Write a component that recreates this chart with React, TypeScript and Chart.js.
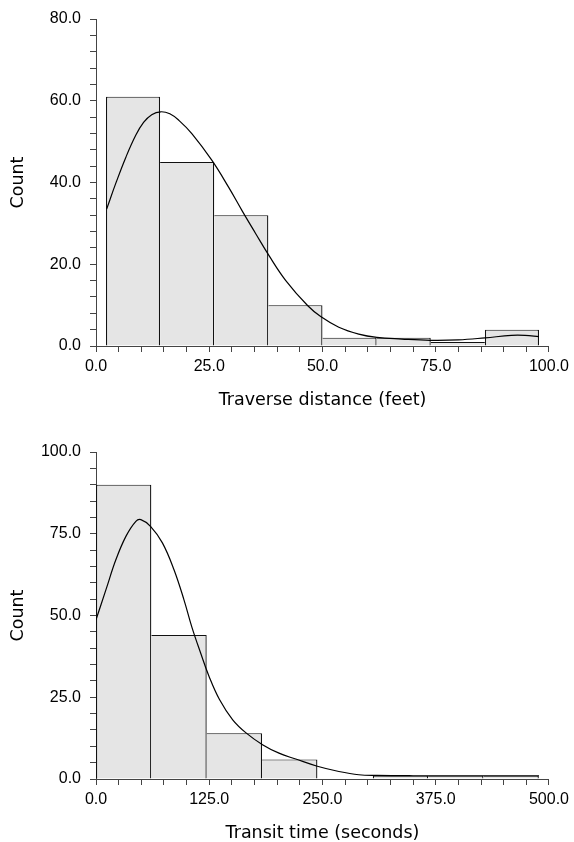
import React, { useEffect, useRef } from 'react';
import { Chart, registerables } from 'chart.js';

Chart.register(...registerables);

// ---- Top chart: traverse distance ----
const TRAVERSE_BIN_STARTS = [2.2, 14.15, 26.1, 38.05, 50.0, 61.95, 73.9, 85.85];
const TRAVERSE_BIN_WIDTH = 11.95;
const TRAVERSE_COUNTS = [61, 45, 32, 10, 2, 2, 1, 4];
const TRAVERSE_CURVE_X = [2.35, 4.4, 6.6, 8.8, 10.5, 12.3, 14.3, 16.3, 18.3, 21.2, 25.6, 29.3, 32.3, 35.2, 38.2, 41.9, 46.7, 49.6, 53.6, 58.0, 62.0, 67.5, 73.8, 80.0, 85.9, 91.7, 94.7, 97.8];
const TRAVERSE_CURVE_Y = [33.5, 39.9, 46.2, 51.6, 54.7, 56.6, 57.3, 56.8, 55.2, 51.9, 45.4, 38.8, 33.0, 27.6, 22.1, 16.0, 9.9, 7.2, 4.6, 2.9, 2.1, 1.7, 1.4, 1.5, 2.0, 2.6, 2.6, 2.3];

// ---- Bottom chart: transit time ----
const TRANSIT_BIN_STARTS = [0, 61.1, 122.2, 183.3, 244.4, 305.5, 366.6, 427.7];
const TRANSIT_BIN_WIDTH = 61.1;
const TRANSIT_COUNTS = [90, 44, 14, 6, 0, 1, 1, 1];
const TRANSIT_CURVE_X = [0, 11.0, 22.0, 33.0, 44.0, 49.5, 60.4, 73.3, 86.1, 97.1, 106.0, 115.4, 124.6, 136.3, 150.9, 165.6, 183.8, 202, 220.5, 244.3, 268.1, 290.1, 310, 350, 400, 450, 489];
const TRANSIT_CURVE_Y = [48.7, 57.9, 67.1, 74.2, 78.8, 79.3, 77.2, 72.2, 64.0, 54.8, 46.3, 38.6, 31.5, 24.3, 18.1, 14.1, 10.5, 7.9, 6.1, 3.9, 2.3, 1.3, 1.1, 1.0, 1.0, 1.0, 1.0];

// ---- Axes ----
const TOP_X_RANGE = [0, 100];
const TOP_X_MINOR_STEP = 5;
const TOP_X_MAJOR_STEP = 25;
const TOP_Y_RANGE = [0, 80];
const TOP_Y_MINOR_STEP = 4;
const TOP_Y_MAJOR_STEP = 20;

const BOT_X_RANGE = [0, 500];
const BOT_X_MINOR_STEP = 25;
const BOT_X_MAJOR_STEP = 125;
const BOT_Y_RANGE = [0, 100];
const BOT_Y_MINOR_STEP = 5;
const BOT_Y_MAJOR_STEP = 25;

const TOP_X_TITLE = 'Traverse distance (feet)';
const BOT_X_TITLE = 'Transit time (seconds)';
const Y_TITLE = 'Count';

const TICK_FONT = { family: "'Liberation Sans', Arial, sans-serif", size: 16 };
const TITLE_FONT = { family: "'DejaVu Sans', sans-serif", size: 17.5, lineHeight: 1 };
const AXIS_COLOR = '#444';

const W = 574;
const H = 409;

type Spec = {
  binStarts: number[];
  binWidth: number;
  counts: number[];
  curveX: number[];
  curveY: number[];
  xRange: number[];
  xMinor: number;
  xMajor: number;
  yRange: number[];
  yMinor: number;
  yMajor: number;
  xTitle: string;
};

function isMajor(v: number, major: number) {
  const r = v / major;
  return Math.abs(r - Math.round(r)) < 1e-6;
}

function makeConfig(spec: Spec): any {
  const bars = spec.binStarts.map((s, i) => ({ x: s + spec.binWidth / 2, y: spec.counts[i] }));
  const curve = spec.curveX.map((x, i) => ({ x, y: spec.curveY[i] }));
  return {
    type: 'bar',
    data: {
      datasets: [
        {
          type: 'line',
          data: curve,
          borderColor: '#000',
          borderWidth: 1.2,
          pointRadius: 0,
          fill: false,
          tension: 0.4,
          order: 0,
        },
        {
          type: 'bar',
          data: bars,
          backgroundColor: '#e5e5e5',
          borderColor: '#111',
          barThickness: (ctx: any) => {
            const s = ctx.chart.scales.x;
            if (!s) return 10;
            return Math.abs(s.getPixelForValue(spec.binWidth) - s.getPixelForValue(0));
          },
          inflateAmount: 0,
          borderSkipped: 'start',
          borderWidth: (ctx: any) => {
            if (ctx.dataIndex === undefined) return 1;
            const d = ctx.dataset.data;
            const i = ctx.dataIndex;
            const cur = d[i].y;
            const prev = i > 0 ? d[i - 1].y : -1;
            const next = i < d.length - 1 ? d[i + 1].y : -1;
            return { top: 1, bottom: 0, left: prev < cur ? 1.3 : 0, right: next <= cur ? 1.3 : 0 };
          },
          order: 1,
        },
      ],
    },
    options: {
      animation: false,
      responsive: false,
      devicePixelRatio: 1,
      layout: { padding: { top: 19, right: 23, left: 0, bottom: 0 } },
      plugins: {
        legend: { display: false },
        tooltip: { enabled: false },
        title: { display: false },
      },
      scales: {
        x: {
          type: 'linear',
          min: spec.xRange[0],
          max: spec.xRange[1],
          offset: false,
          grid: { drawOnChartArea: false, drawTicks: true, tickLength: 6, color: AXIS_COLOR, lineWidth: 1, offset: false },
          border: { display: true, color: AXIS_COLOR, width: 1 },
          ticks: {
            stepSize: spec.xMinor,
            autoSkip: false,
            maxRotation: 0,
            minRotation: 0,
            padding: 5,
            color: '#000',
            font: TICK_FONT,
            callback: (v: number) => (isMajor(v, spec.xMajor) ? v.toFixed(1) : ''),
          },
          title: {
            display: true,
            text: spec.xTitle,
            color: '#000',
            font: TITLE_FONT,
            padding: { top: 0, bottom: 0 },
          },
          afterFit: (scale: any) => {
            scale.height = H - 346;
          },
        },
        y: {
          type: 'linear',
          min: spec.yRange[0],
          max: spec.yRange[1],
          grid: { drawOnChartArea: false, drawTicks: true, tickLength: 6, color: AXIS_COLOR, lineWidth: 1 },
          border: { display: true, color: AXIS_COLOR, width: 1 },
          ticks: {
            stepSize: spec.yMinor,
            autoSkip: false,
            padding: 9,
            color: '#000',
            font: TICK_FONT,
            callback: (v: number) => (isMajor(v, spec.yMajor) ? v.toFixed(1) : ''),
          },
          title: {
            display: true,
            text: Y_TITLE,
            color: '#000',
            font: TITLE_FONT,
            padding: { top: 10, bottom: 0 },
          },
          afterFit: (scale: any) => {
            scale.width = 96;
          },
        },
      },
    },
  };
}

function Histogram({ spec, top }: { spec: Spec; top: number }) {
  const ref = useRef<HTMLCanvasElement>(null);
  useEffect(() => {
    if (!ref.current) return;
    const chart = new Chart(ref.current, makeConfig(spec));
    return () => chart.destroy();
  }, []);
  return (
    <canvas
      ref={ref}
      width={W}
      height={H}
      style={{ position: 'absolute', left: 0, top, width: W, height: H, display: 'block' }}
    />
  );
}

const TOP_SPEC: Spec = {
  binStarts: TRAVERSE_BIN_STARTS,
  binWidth: TRAVERSE_BIN_WIDTH,
  counts: TRAVERSE_COUNTS,
  curveX: TRAVERSE_CURVE_X,
  curveY: TRAVERSE_CURVE_Y,
  xRange: TOP_X_RANGE,
  xMinor: TOP_X_MINOR_STEP,
  xMajor: TOP_X_MAJOR_STEP,
  yRange: TOP_Y_RANGE,
  yMinor: TOP_Y_MINOR_STEP,
  yMajor: TOP_Y_MAJOR_STEP,
  xTitle: TOP_X_TITLE,
};

const BOT_SPEC: Spec = {
  binStarts: TRANSIT_BIN_STARTS,
  binWidth: TRANSIT_BIN_WIDTH,
  counts: TRANSIT_COUNTS,
  curveX: TRANSIT_CURVE_X,
  curveY: TRANSIT_CURVE_Y,
  xRange: BOT_X_RANGE,
  xMinor: BOT_X_MINOR_STEP,
  xMajor: BOT_X_MAJOR_STEP,
  yRange: BOT_Y_RANGE,
  yMinor: BOT_Y_MINOR_STEP,
  yMajor: BOT_Y_MAJOR_STEP,
  xTitle: BOT_X_TITLE,
};

export default function App() {
  return (
    <div style={{ position: 'absolute', left: 0, top: 0, width: W, height: 842, overflow: 'hidden', background: '#fff' }}>
      <Histogram spec={TOP_SPEC} top={0} />
      <Histogram spec={BOT_SPEC} top={433} />
    </div>
  );
}
